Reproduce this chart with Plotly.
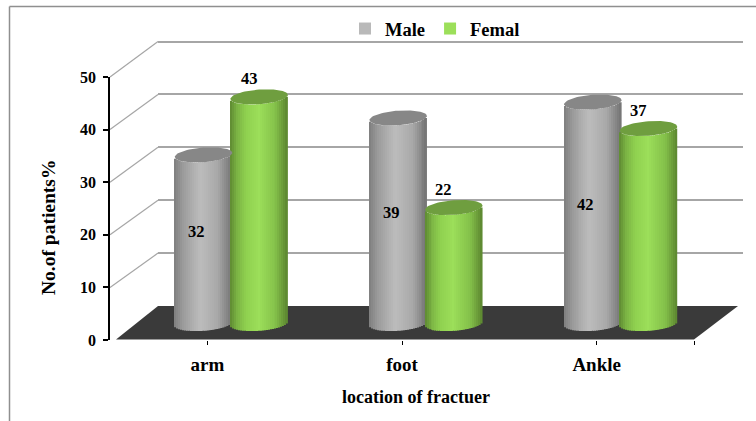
import numpy as np
import plotly.graph_objects as go

categories = ["arm", "foot", "Ankle"]
male = [32, 39, 42]
female = [43, 22, 37]
y_ticks = [0, 10, 20, 30, 40, 50]
series_names = ["Male", "Femal"]
x_title = "location of fractuer"
y_title = "No.of patients%"

W, H = 756, 421
FONT = "Liberation Serif"


def fx(p):
    return p / W


def fy(p):
    return 1 - p / H


def dom_x(a, b):
    return [fx(a), fx(b)]


def dom_y(top, bottom):
    return [fy(bottom), fy(top)]


# geometry of the pseudo-3D scene, in pixels
FRONT_X = (110, 694)
FRONT_Y = (77, 340)
WALL_X = (158, 742.7)
WALL_Y = (41.5, 306)
WALL_PAD = 2  # value units above 50, so that the top gridline is still drawn
BAR_X = (134, 718)
BAR_Y = (60, 323.5)
BAR_PAD = 10  # value units of room under the zero line for the rounded base

unit_x = (BAR_X[1] - BAR_X[0]) / 3
unit_y = (BAR_Y[1] - BAR_Y[0]) / 50
wall_unit = (WALL_Y[1] - WALL_Y[0]) / 50
CYL_W = 57.5 / unit_x
CYL_SHIFT = 27.8 / unit_x
CAP_B = 7.3 / unit_y
CAP_TILT = 2.0 / unit_y
STRIPS = 29


def hex_rgb(h):
    return [int(h[i:i + 2], 16) for i in (1, 3, 5)]


def shade(stops, t):
    pos = [s[0] for s in stops]
    rgb = np.array([hex_rgb(s[1]) for s in stops], dtype=float)
    return "rgb(%d,%d,%d)" % tuple(np.interp(t, pos, rgb[:, i]) for i in range(3))


grey_stops = [(0, "#7e7e7e"), (0.15, "#9b9b9b"), (0.45, "#bdbdbd"), (0.75, "#a9a9a9"), (1, "#747474")]
green_stops = [(0, "#5e8a32"), (0.12, "#7bb344"), (0.28, "#90d250"), (0.5, "#9cdf5a"), (0.8, "#84c04a"), (1, "#5c8630")]
styles = [
    (male, grey_stops, "#878787", -CYL_SHIFT),
    (female, green_stops, "#6f9e3f", CYL_SHIFT),
]

fig = go.Figure()
xs = list(range(len(categories)))

# empty traces so that the wall and the front axes exist as subplots
fig.add_trace(go.Scatter(x=[None], y=[None], xaxis="x", yaxis="y", showlegend=False, hoverinfo="skip"))

for name, (vals, stops, cap_col, shift) in zip(series_names, styles):
    for k in range(STRIPS):
        t = (k + 0.5) / STRIPS
        u = 2 * t - 1
        base = -CAP_B * np.sqrt(1 - u * u) + CAP_TILT * u
        fig.add_trace(go.Bar(
            x=xs, y=vals, base=[base] * len(vals),
            xaxis="x2", yaxis="y2",
            width=CYL_W / STRIPS,
            offset=shift - CYL_W / 2 + k * CYL_W / STRIPS,
            marker=dict(color=shade(stops, t), line=dict(width=0)),
            name=name, legendgroup=name,
            showlegend=(k == STRIPS // 2),
            hoverinfo="skip",
        ))

theta = np.linspace(0, 2 * np.pi, 73)
for vals, stops, cap_col, shift in styles:
    for i, v in enumerate(vals):
        fig.add_trace(go.Scatter(
            x=i + shift + CYL_W / 2 * np.cos(theta),
            y=v + CAP_B * np.sin(theta) + CAP_TILT * np.cos(theta),
            xaxis="x2", yaxis="y2", mode="lines", line=dict(width=0),
            fill="toself", fillcolor=cap_col, showlegend=False,
            hoverinfo="skip",
        ))

fig.add_trace(go.Scatter(x=[None], y=[None], xaxis="x3", yaxis="y3", showlegend=False, hoverinfo="skip"))

label_font = dict(family=FONT, size=16.5, color="#000000", weight="bold")
annotations = []
for i, v in enumerate(male):
    annotations.append(dict(x=i - CYL_SHIFT - 7 / unit_x, y=v * 0.5 + 1.5, xref="x2", yref="y2",
                            xanchor="center", yanchor="middle",
                            text=str(v), showarrow=False, font=label_font))
for i, v in enumerate(female):
    annotations.append(dict(x=i + CYL_SHIFT - 10 / unit_x, y=v + 3.5, xref="x2", yref="y2",
                            xanchor="center", yanchor="middle",
                            text=str(v), showarrow=False, font=label_font))
annotations.append(dict(x=fx(416), y=fy(397), xref="paper", yref="paper", text=x_title, showarrow=False,
                        xanchor="center", yanchor="middle",
                        font=dict(family=FONT, size=18, color="#000000", weight="bold")))
annotations.append(dict(x=fx(48), y=fy(228), xref="paper", yref="paper", text=y_title, showarrow=False, textangle=-90,
                        xanchor="center", yanchor="middle",
                        font=dict(family=FONT, size=19.5, color="#000000", weight="bold")))

GRID = "#a6a6a6"
shapes = [
    dict(type="line", xref="paper", yref="paper", x0=fx(9.5), x1=1, y0=fy(6.5), y1=fy(6.5),
         line=dict(color="#8f8f8f", width=1.5), layer="below"),
    dict(type="line", xref="paper", yref="paper", x0=fx(9.5), x1=fx(9.5), y0=fy(6.5), y1=0,
         line=dict(color="#8f8f8f", width=1.5), layer="below"),
    dict(type="path", xref="paper", yref="paper",
         path="M %f %f L %f %f L %f %f L %f %f Z" % (
             fx(116), fy(339.5), fx(158), fy(306), fx(738), fy(306), fx(694), fy(339.5)),
         fillcolor="#3a3a3a", line=dict(width=0), layer="below"),
]
for v in y_ticks[1:]:
    y_front = FRONT_Y[1] - v * (FRONT_Y[1] - FRONT_Y[0]) / 50
    y_back = WALL_Y[1] - v * wall_unit
    shapes.append(dict(type="line", xref="paper", yref="paper", x0=fx(FRONT_X[0]), x1=fx(WALL_X[0]),
                       y0=fy(y_front), y1=fy(y_back), line=dict(color=GRID, width=1.2), layer="below"))

fig.update_layout(
    width=W, height=H, autosize=False,
    margin=dict(l=0, r=0, t=0, b=0),
    paper_bgcolor="white", plot_bgcolor="rgba(0,0,0,0)",
    barmode="overlay",
    font=dict(family=FONT, color="#000000"),
    shapes=shapes, annotations=annotations,
    showlegend=True,
    legend=dict(orientation="h", x=fx(345), xanchor="left", y=fy(10), yanchor="top",
                font=dict(family=FONT, size=18.5, weight="bold"),
                bgcolor="rgba(0,0,0,0)", tracegroupgap=0, itemclick=False, itemdoubleclick=False),
    # back wall
    xaxis=dict(domain=dom_x(*WALL_X), range=[0, 1], anchor="y", visible=False, fixedrange=True),
    yaxis=dict(domain=dom_y(WALL_Y[0] - WALL_PAD * wall_unit, WALL_Y[1]), range=[0, 50 + WALL_PAD], anchor="x",
               tickvals=y_ticks[1:], showticklabels=False,
               showgrid=True, gridcolor=GRID, gridwidth=1.5, zeroline=False, showline=False, ticks="", fixedrange=True),
    # bars
    xaxis2=dict(domain=dom_x(*BAR_X), range=[-0.5, 2.5], anchor="y2", visible=False, fixedrange=True),
    yaxis2=dict(domain=dom_y(BAR_Y[0], BAR_Y[1] + BAR_PAD * unit_y), range=[-BAR_PAD, 50], anchor="x2",
                visible=False, fixedrange=True),
    # front axes
    xaxis3=dict(domain=dom_x(*FRONT_X), range=[-0.5, 2.5], anchor="y3",
                tickvals=xs + [2.5], ticktext=categories + [""],
                ticks="outside", ticklen=4, tickwidth=1, tickcolor="#000000",
                tickfont=dict(family=FONT, size=19, weight="bold"),
                ticklabelstandoff=3, automargin=False,
                showgrid=False, zeroline=False, showline=False, fixedrange=True),
    yaxis3=dict(domain=dom_y(*FRONT_Y), range=[0, 50], anchor="x3",
                tickvals=y_ticks, ticks="outside", ticklen=5, tickwidth=1.5, tickcolor="#000000",
                tickfont=dict(family=FONT, size=16, weight="bold"),
                ticklabelstandoff=4, automargin=False,
                showgrid=False, zeroline=False, showline=True, linecolor="#000000", linewidth=1.5, fixedrange=True),
)

fig.write_html("out.html", config={"displayModeBar": False},
               post_script="document.body.style.margin='0';document.documentElement.style.overflow='hidden';")
